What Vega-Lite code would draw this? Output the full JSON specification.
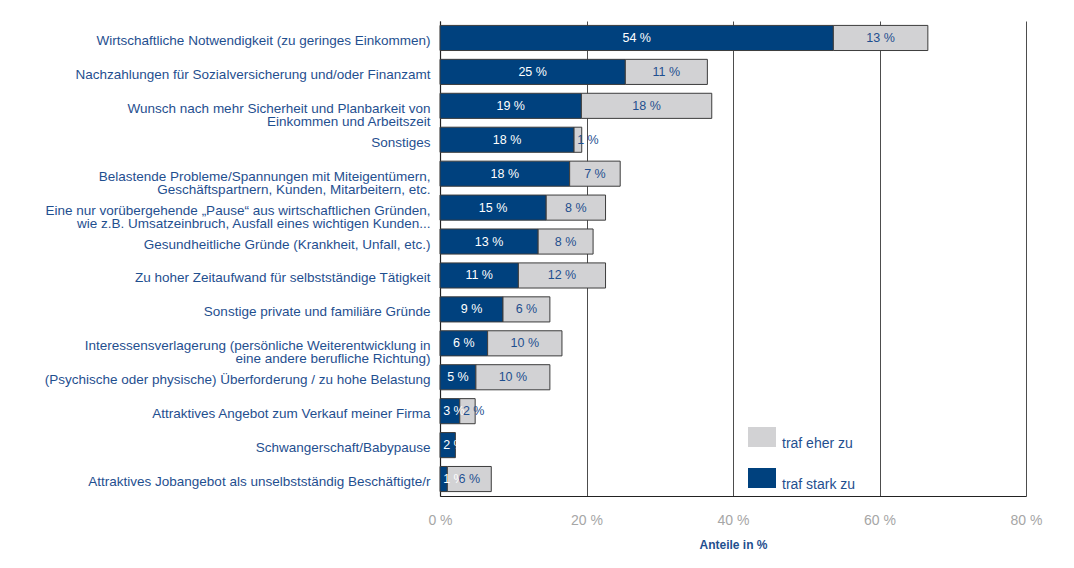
{
  "$schema": "https://vega.github.io/schema/vega-lite/v6.json",
  "autosize": {"type": "none"},
  "padding": {"left": 440, "top": 21, "right": 48, "bottom": 72},
  "width": 586,
  "height": 475,
  "background": "white",
  "config": {
    "view": {"stroke": null},
    "font": "Liberation Sans"
  },
  "data": {
    "values": [
      {"cat": "Wirtschaftliche Notwendigkeit (zu geringes Einkommen)", "series": "traf stark zu", "value": 53.7, "label": "54 %"},
      {"cat": "Wirtschaftliche Notwendigkeit (zu geringes Einkommen)", "series": "traf eher zu", "value": 12.9, "label": "13 %"},
      {"cat": "Nachzahlungen für Sozialversicherung und/oder Finanzamt", "series": "traf stark zu", "value": 25.3, "label": "25 %"},
      {"cat": "Nachzahlungen für Sozialversicherung und/oder Finanzamt", "series": "traf eher zu", "value": 11.2, "label": "11 %"},
      {"cat": "Wunsch nach mehr Sicherheit und Planbarkeit von\u00a0|Einkommen und Arbeitszeit", "series": "traf stark zu", "value": 19.3, "label": "19 %"},
      {"cat": "Wunsch nach mehr Sicherheit und Planbarkeit von\u00a0|Einkommen und Arbeitszeit", "series": "traf eher zu", "value": 17.8, "label": "18 %"},
      {"cat": "Sonstiges", "series": "traf stark zu", "value": 18.3, "label": "18 %"},
      {"cat": "Sonstiges", "series": "traf eher zu", "value": 1.05, "label": "1 %"},
      {"cat": "Belastende Probleme/Spannungen mit Miteigentümern,\u00a0|Geschäftspartnern, Kunden, Mitarbeitern, etc.", "series": "traf stark zu", "value": 17.7, "label": "18 %"},
      {"cat": "Belastende Probleme/Spannungen mit Miteigentümern,\u00a0|Geschäftspartnern, Kunden, Mitarbeitern, etc.", "series": "traf eher zu", "value": 6.9, "label": "7 %"},
      {"cat": "Eine nur vorübergehende „Pause“ aus wirtschaftlichen Gründen,\u00a0|wie z.B. Umsatzeinbruch, Ausfall eines wichtigen Kunden...", "series": "traf stark zu", "value": 14.5, "label": "15 %"},
      {"cat": "Eine nur vorübergehende „Pause“ aus wirtschaftlichen Gründen,\u00a0|wie z.B. Umsatzeinbruch, Ausfall eines wichtigen Kunden...", "series": "traf eher zu", "value": 8.1, "label": "8 %"},
      {"cat": "Gesundheitliche Gründe (Krankheit, Unfall, etc.)", "series": "traf stark zu", "value": 13.4, "label": "13 %"},
      {"cat": "Gesundheitliche Gründe (Krankheit, Unfall, etc.)", "series": "traf eher zu", "value": 7.5, "label": "8 %"},
      {"cat": "Zu hoher Zeitaufwand für selbstständige Tätigkeit", "series": "traf stark zu", "value": 10.7, "label": "11 %"},
      {"cat": "Zu hoher Zeitaufwand für selbstständige Tätigkeit", "series": "traf eher zu", "value": 11.9, "label": "12 %"},
      {"cat": "Sonstige private und familiäre Gründe", "series": "traf stark zu", "value": 8.6, "label": "9 %"},
      {"cat": "Sonstige private und familiäre Gründe", "series": "traf eher zu", "value": 6.4, "label": "6 %"},
      {"cat": "Interessensverlagerung (persönliche Weiterentwicklung in\u00a0|eine andere berufliche Richtung)", "series": "traf stark zu", "value": 6.5, "label": "6 %"},
      {"cat": "Interessensverlagerung (persönliche Weiterentwicklung in\u00a0|eine andere berufliche Richtung)", "series": "traf eher zu", "value": 10.15, "label": "10 %"},
      {"cat": "(Psychische oder physische) Überforderung / zu hohe Belastung", "series": "traf stark zu", "value": 4.9, "label": "5 %"},
      {"cat": "(Psychische oder physische) Überforderung / zu hohe Belastung", "series": "traf eher zu", "value": 10.1, "label": "10 %"},
      {"cat": "Attraktives Angebot zum Verkauf meiner Firma", "series": "traf stark zu", "value": 2.7, "label": "3 %"},
      {"cat": "Attraktives Angebot zum Verkauf meiner Firma", "series": "traf eher zu", "value": 2.1, "label": "2 %"},
      {"cat": "Schwangerschaft/Babypause", "series": "traf stark zu", "value": 2.1, "label": "2 %"},
      {"cat": "Attraktives Jobangebot als unselbstständig Beschäftigte/r", "series": "traf stark zu", "value": 1.0, "label": "1 %"},
      {"cat": "Attraktives Jobangebot als unselbstständig Beschäftigte/r", "series": "traf eher zu", "value": 6.0, "label": "6 %"}
    ]
  },
  "transform": [
    {"stack": "value", "groupby": ["cat"], "sort": [{"field": "series", "order": "descending"}], "as": ["x0", "x1"]},
    {"calculate": "max((datum.x0 + datum.x1) / 2, datum.x0 + 1.9)", "as": "xmid"}
  ],
  "encoding": {
    "y": {
      "field": "cat",
      "type": "nominal",
      "sort": null,
      "title": null,
      "scale": {"paddingInner": 0.26, "paddingOuter": 0.13},
      "axis": {
        "labelExpr": "split(datum.label, '|')",
        "labelFont": "Liberation Sans",
        "labelFontSize": 13.5,
        "labelColor": "#1f4f8f",
        "labelLineHeight": 13,
        "labelPadding": 10,
        "labelOffset": 3,
        "labelLimit": 500,
        "ticks": false,
        "domainColor": "#222222",
        "domainWidth": 1.2
      }
    }
  },
  "layer": [
    {
      "mark": {"type": "bar", "stroke": "#3c3c3c", "strokeWidth": 1},
      "encoding": {
        "x": {
          "field": "x0",
          "type": "quantitative",
          "scale": {"domain": [0, 80]},
          "title": "Anteile in %",
          "axis": {
            "values": [0, 20, 40, 60, 80],
            "labelExpr": "datum.value + ' %'",
            "labelFlush": false,
            "labelFont": "Liberation Sans",
            "labelFontSize": 14,
            "labelColor": "#a6a6a6",
            "labelPadding": 17,
            "ticks": false,
            "grid": true,
            "gridColor": "#4d4d4d",
            "gridWidth": 1,
            "domainColor": "#222222",
            "domainWidth": 1.2,
            "titleFont": "Liberation Sans",
            "titleFontSize": 12,
            "titleFontWeight": "bold",
            "titleColor": "#1f4f8f",
            "titlePadding": 12
          }
        },
        "x2": {"field": "x1"},
        "color": {
          "field": "series",
          "type": "nominal",
          "scale": {"domain": ["traf eher zu", "traf stark zu"], "range": ["#d2d2d4", "#00417e"]},
          "legend": {
            "title": null,
            "orient": "none",
            "legendX": 312,
            "legendY": 406,
            "padding": 0,
            "symbolType": "M-1.4,-1H1.4V1H-1.4Z",
            "symbolSize": 400,
            "symbolStrokeWidth": 0,
            "symbolOpacity": 1,
            "rowPadding": 17,
            "labelOffset": 10,
            "labelFont": "Liberation Sans",
            "labelFontSize": 14,
            "labelColor": "#1f4f8f",
            "labelBaseline": "top"
          }
        }
      }
    },
    {
      "transform": [{"filter": "datum.series === 'traf stark zu'"}],
      "mark": {"type": "text", "color": "white", "fontSize": 12.5, "font": "Liberation Sans", "baseline": "middle"},
      "encoding": {
        "x": {"field": "xmid", "type": "quantitative"},
        "text": {"field": "label"}
      }
    },
    {
      "transform": [{"filter": "datum.series === 'traf eher zu'"}],
      "mark": {"type": "text", "color": "#1f4f8f", "fontSize": 12.5, "font": "Liberation Sans", "baseline": "middle"},
      "encoding": {
        "x": {"field": "xmid", "type": "quantitative"},
        "text": {"field": "label"}
      }
    }
  ]
}
